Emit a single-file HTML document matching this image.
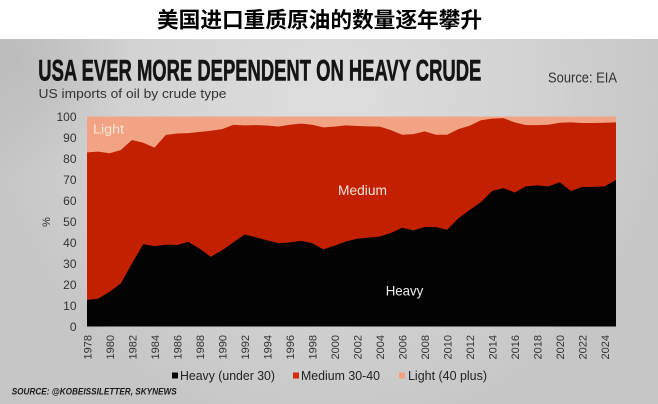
<!DOCTYPE html>
<html>
<head>
<meta charset="utf-8">
<style>
  html,body{margin:0;padding:0;background:#fff;}
  svg{display:block;}
  .t{font-family:"Liberation Sans","Noto Sans CJK SC",sans-serif;}
</style>
</head>
<body>
<svg width="658" height="404" viewBox="0 0 658 404" xmlns="http://www.w3.org/2000/svg">
  <defs>
    <radialGradient id="lite" cx="330" cy="95" r="340" gradientUnits="userSpaceOnUse">
      <stop offset="0" stop-color="#dedede"/>
      <stop offset="0.6" stop-color="#d2d2d2"/>
      <stop offset="1" stop-color="#c6c6c6"/>
    </radialGradient>
    <radialGradient id="dark" cx="10" cy="60" r="120" gradientUnits="userSpaceOnUse">
      <stop offset="0" stop-color="#b9b9b9" stop-opacity="0.8"/>
      <stop offset="1" stop-color="#b9b9b9" stop-opacity="0"/>
    </radialGradient>
  </defs>

  <rect x="0" y="0" width="658" height="404" fill="#ffffff"/>
  <text class="t" x="157" y="27.5" font-size="21.7" font-weight="bold" fill="#000" textLength="325" lengthAdjust="spacingAndGlyphs" style='font-family:"Liberation Sans","Noto Sans CJK SC",sans-serif'>美国进口重质原油的数量逐年攀升</text>

  <rect x="0" y="39" width="658" height="365" fill="url(#lite)"/>
  <rect x="0" y="39" width="658" height="365" fill="url(#dark)"/>

  <text class="t" x="38.3" y="80.7" font-size="30" font-weight="bold" fill="#141414" stroke="#141414" stroke-width="0.6" textLength="443" lengthAdjust="spacingAndGlyphs">USA EVER MORE DEPENDENT ON HEAVY CRUDE</text>
  <text class="t" x="38.5" y="98" font-size="13" fill="#333" textLength="188" lengthAdjust="spacingAndGlyphs">US imports of oil by crude type</text>
  <text class="t" x="548" y="82.3" font-size="14.5" fill="#333" textLength="69" lengthAdjust="spacingAndGlyphs">Source: EIA</text>

  <g transform="translate(87,326.5) scale(11.255,-2.1)">
    <rect x="0" y="0" width="47" height="100" fill="#f1a383"/>
    <polygon fill="#c22000" points="0,0 0,82.9 1,83.3 2,82.5 3,84.0 4,88.8 5,87.5 6,85.2 7,91.2 8,91.9 9,92.1 10,92.6 11,93.2 12,94.0 13,96.0 14,95.8 15,95.9 16,95.7 17,95.2 18,96.1 19,96.6 20,96.1 21,94.8 22,95.2 23,95.8 24,95.5 25,95.3 26,95.2 27,93.5 28,91.3 29,91.6 30,92.9 31,91.3 32,91.3 33,94.0 34,95.6 35,98.2 36,99.0 37,99.2 38,97.2 39,95.9 40,95.9 41,96.1 42,97.0 43,97.2 44,96.9 45,96.9 46,97.0 47,97.2 47,0"/>
    <polygon fill="#030303" points="0,0 0,12.6 1,13.3 2,16.5 3,20.5 4,30 5,39.2 6,38.3 7,38.9 8,38.8 9,40.3 10,37.1 11,33.2 12,36.3 13,40.0 14,43.8 15,42.5 16,41.0 17,39.7 18,40.0 19,40.8 20,39.7 21,36.7 22,38.5 23,40.5 24,41.8 25,42.3 26,42.8 27,44.5 28,47.0 29,45.8 30,47.4 31,47.3 32,46.1 33,51.5 34,55.5 35,59.2 36,64.5 37,65.9 38,63.8 39,66.7 40,67.2 41,66.7 42,68.7 43,64.5 44,66.4 45,66.5 46,66.7 47,69.8 47,0"/>
  </g>

  <text class="t" x="93" y="133.5" font-size="13" fill="#fbe6da" textLength="31" lengthAdjust="spacingAndGlyphs">Light</text>
  <text class="t" x="338" y="194.8" font-size="14" fill="#f3e3de" textLength="49" lengthAdjust="spacingAndGlyphs">Medium</text>
  <text class="t" x="385.7" y="295.7" font-size="14" fill="#eeeeee" textLength="37.6" lengthAdjust="spacingAndGlyphs">Heavy</text>

  <g class="t" font-size="12" fill="#333" text-anchor="end">
    <text x="76.5" y="330.8">0</text>
    <text x="76.5" y="309.8">10</text>
    <text x="76.5" y="288.8">20</text>
    <text x="76.5" y="267.8">30</text>
    <text x="76.5" y="246.8">40</text>
    <text x="76.5" y="225.8">50</text>
    <text x="76.5" y="204.8">60</text>
    <text x="76.5" y="183.8">70</text>
    <text x="76.5" y="162.8">80</text>
    <text x="76.5" y="141.8">90</text>
    <text x="76.5" y="120.8">100</text>
  </g>
  <text class="t" font-size="11" fill="#333" text-anchor="middle" transform="translate(50,222) rotate(-90)">%</text>

  <g class="t" font-size="11" fill="#333" text-anchor="end">
    <text transform="translate(91.5,335) rotate(-90)">1978</text>
    <text transform="translate(114,335) rotate(-90)">1980</text>
    <text transform="translate(136.5,335) rotate(-90)">1982</text>
    <text transform="translate(159,335) rotate(-90)">1984</text>
    <text transform="translate(181.5,335) rotate(-90)">1986</text>
    <text transform="translate(204,335) rotate(-90)">1988</text>
    <text transform="translate(226.5,335) rotate(-90)">1990</text>
    <text transform="translate(249,335) rotate(-90)">1992</text>
    <text transform="translate(271.5,335) rotate(-90)">1994</text>
    <text transform="translate(294,335) rotate(-90)">1996</text>
    <text transform="translate(316.5,335) rotate(-90)">1998</text>
    <text transform="translate(339,335) rotate(-90)">2000</text>
    <text transform="translate(361.5,335) rotate(-90)">2002</text>
    <text transform="translate(384,335) rotate(-90)">2004</text>
    <text transform="translate(406.5,335) rotate(-90)">2006</text>
    <text transform="translate(429,335) rotate(-90)">2008</text>
    <text transform="translate(451.5,335) rotate(-90)">2010</text>
    <text transform="translate(474,335) rotate(-90)">2012</text>
    <text transform="translate(496.5,335) rotate(-90)">2014</text>
    <text transform="translate(519,335) rotate(-90)">2016</text>
    <text transform="translate(541.5,335) rotate(-90)">2018</text>
    <text transform="translate(564,335) rotate(-90)">2020</text>
    <text transform="translate(586.5,335) rotate(-90)">2022</text>
    <text transform="translate(609,335) rotate(-90)">2024</text>
  </g>

  <rect x="172" y="372.5" width="6" height="6" fill="#050505"/>
  <text class="t" x="180" y="380" font-size="13" fill="#222" textLength="95" lengthAdjust="spacingAndGlyphs">Heavy (under 30)</text>
  <rect x="293" y="372.5" width="6" height="6" fill="#d42a10"/>
  <text class="t" x="301" y="380" font-size="13" fill="#222" textLength="79" lengthAdjust="spacingAndGlyphs">Medium 30-40</text>
  <rect x="399" y="372.5" width="6" height="6" fill="#f0a07e"/>
  <text class="t" x="408" y="380" font-size="13" fill="#222" textLength="79" lengthAdjust="spacingAndGlyphs">Light (40 plus)</text>

  <text class="t" x="11.7" y="394.5" font-size="9.5" font-weight="bold" font-style="italic" fill="#1a1a1a" textLength="165" lengthAdjust="spacingAndGlyphs">SOURCE: @KOBEISSILETTER, SKYNEWS</text>
</svg>
</body>
</html>
